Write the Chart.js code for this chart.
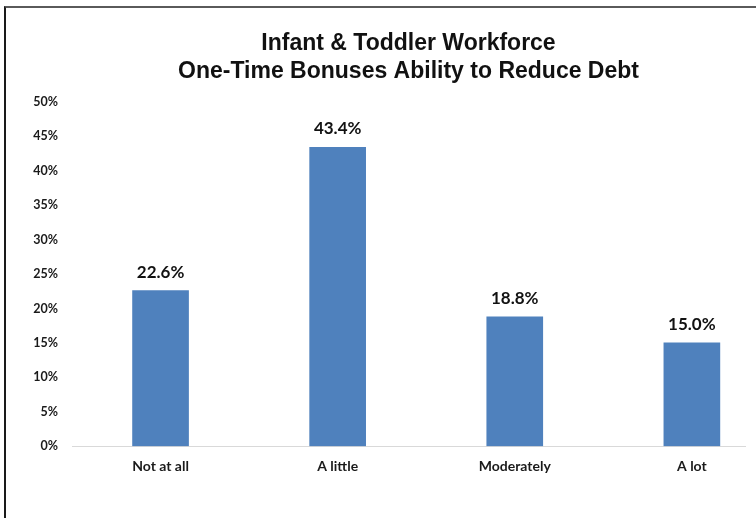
<!DOCTYPE html>
<html>
<head>
<meta charset="utf-8">
<script src="https://cdn.jsdelivr.net/npm/chart.js@4/dist/chart.umd.min.js"></script>
<style>
  html, body { margin: 0; padding: 0; background: #fff; }
  #wrap { position: relative; width: 756px; height: 518px; overflow: hidden; }
  #frame {
    position: absolute; left: 4px; top: 6px; right: -4px; bottom: -4px;
    border-top: 2px solid #5a5a5a; border-left: 2px solid #1a1a1a;
  }
  canvas { position: absolute; left: 0; top: 0; }
</style>
</head>
<body>
<div id="wrap">
  <div id="frame"></div>
  <canvas id="chart" width="756" height="518"></canvas>
</div>
<script>
// --- DATA ---
const categories = ['Not at all', 'A little', 'Moderately', 'A lot'];
const shares = [22.6, 43.4, 18.8, 15.0];
const yTicks = [0, 5, 10, 15, 20, 25, 30, 35, 40, 45, 50];
const titleLines = ['Infant & Toddler Workforce', 'One-Time Bonuses Ability to Reduce Debt'];

// Title drawn centred on the plot area (Excel style)
const titlePlugin = {
  id: 'plotTitle',
  afterDraw(chart) {
    const ctx = chart.ctx;
    const area = chart.chartArea;
    const cx = (area.left + area.right) / 2;
    ctx.save();
    ctx.fillStyle = '#111';
    ctx.font = "bold 23px 'Liberation Sans', Arial, sans-serif";
    ctx.textAlign = 'center';
    ctx.textBaseline = 'middle';
    ctx.fillText(titleLines[0], cx, 44);
    ctx.fillText(titleLines[1], cx, 72);
    ctx.restore();
  }
};

// Value labels above the bars
const valueLabels = {
  id: 'valueLabels',
  afterDatasetsDraw(chart) {
    const ctx = chart.ctx;
    const meta = chart.getDatasetMeta(0);
    ctx.save();
    ctx.fillStyle = '#111';
    ctx.font = "bold 17px Lato, sans-serif";
    ctx.textAlign = 'center';
    ctx.textBaseline = 'bottom';
    meta.data.forEach((bar, i) => {
      ctx.fillText(shares[i].toFixed(1) + '%', bar.x, bar.y - 10);
    });
    ctx.restore();
  }
};

new Chart(document.getElementById('chart'), {
  type: 'bar',
  data: {
    datasets: [{
      data: categories.map((c, i) => ({ x: i, y: shares[i] })),
      backgroundColor: '#4F81BD',
      barThickness: 56
    }]
  },
  options: {
    responsive: false,
    animation: false,
    layout: { padding: { top: 102, right: 11, bottom: 31, left: 0 } },
    plugins: {
      legend: { display: false },
      tooltip: { enabled: false }
    },
    scales: {
      x: {
        type: 'linear',
        offset: false,
        min: -0.5,
        max: 3.3,
        afterBuildTicks(scale) {
          scale.ticks = categories.map((c, i) => ({ value: i }));
        },
        ticks: {
          padding: 12,
          color: '#1a1a1a',
          font: { family: 'Lato', size: 14, weight: 'bold' },
          callback: (v) => categories[v]
        },
        grid: { display: false, drawTicks: false },
        border: { color: '#d9d9d9', width: 1 }
      },
      y: {
        min: 0,
        max: 50,
        afterBuildTicks(scale) {
          scale.ticks = yTicks.map(v => ({ value: v }));
        },
        afterFit(scale) { scale.width = 72; },
        ticks: {
          padding: 14,
          color: '#1a1a1a',
          font: { family: 'Lato', size: 12.5, weight: 'bold' },
          callback: (v) => v + '%'
        },
        grid: { display: false, drawTicks: false },
        border: { display: false }
      }
    }
  },
  plugins: [titlePlugin, valueLabels]
});
</script>
</body>
</html>
